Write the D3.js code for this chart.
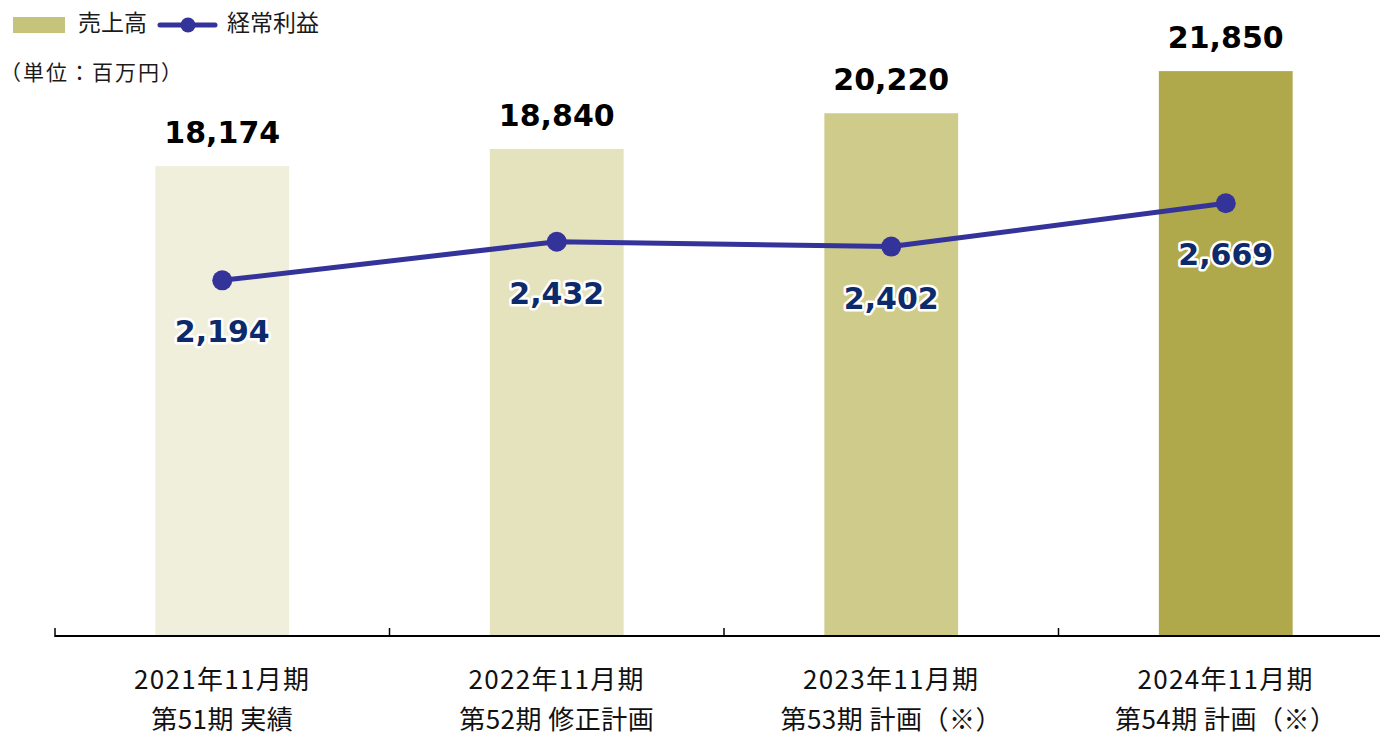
<!DOCTYPE html>
<html><head><meta charset="utf-8">
<script src="https://cdn.jsdelivr.net/npm/d3@7"></script>
<style>html,body{margin:0;padding:0;background:#fff;} svg{display:block;}</style>
</head><body>
<svg id="chart" width="1380" height="735"></svg>
<script>
const categories = ["2021年11月期", "2022年11月期", "2023年11月期", "2024年11月期"];
const subLabels = ["第51期 実績", "第52期 修正計画", "第53期 計画（※）", "第54期 計画（※）"];
const sales = [18174, 18840, 20220, 21850];
const ordinaryProfit = [2194, 2432, 2402, 2669];
const barColors = ["#F0EFDC", "#E5E2BE", "#CFCC8B", "#B0A94B"];
const legendLabels = ["売上高", "経常利益"];
const unitLabel = "（単位：百万円）";

const svg = d3.select("#chart");
const baseY = 636, left = 55, right = 1393;
const cjk = "'Noto Sans CJK JP', 'Noto Sans', sans-serif";
const numFont = "'DejaVu Sans', Verdana, sans-serif";

const xCell = d3.scaleBand().domain(categories).range([left, right]).padding(0);
const xBar = d3.scaleBand().domain(categories).range([left, right]).paddingInner(0.6).paddingOuter(0.3);
const ySales = d3.scaleLinear().domain([0, 24600]).range([baseY, 0]);
const yProfit = d3.scaleLinear().domain([0, 3923]).range([baseY, 0]);

// bars
svg.append("g").selectAll("rect").data(categories).join("rect")
  .attr("x", d => xBar(d))
  .attr("width", xBar.bandwidth())
  .attr("y", (d, i) => ySales(sales[i]))
  .attr("height", (d, i) => baseY - ySales(sales[i]))
  .attr("fill", (d, i) => barColors[i]);

// bar labels
svg.append("g").selectAll("text").data(categories).join("text")
  .attr("x", d => xBar(d) + xBar.bandwidth() / 2)
  .attr("y", (d, i) => ySales(sales[i]) - 23)
  .attr("text-anchor", "middle")
  .attr("font-family", numFont).attr("font-weight", "bold").attr("font-size", 30)
  .attr("fill", "#000")
  .text((d, i) => d3.format(",")(sales[i]));

// axis
const axisG = svg.append("g");
axisG.append("line").attr("x1", left).attr("x2", right).attr("y1", baseY).attr("y2", baseY)
  .attr("stroke", "#000").attr("stroke-width", 2);
const tickXs = categories.map(c => xCell(c)).concat([xCell(categories[categories.length-1]) + xCell.bandwidth()]);
axisG.selectAll("line.tick").data(tickXs).join("line").attr("class", "tick")
  .attr("x1", d => d).attr("x2", d => d).attr("y1", baseY - 8).attr("y2", baseY + 1)
  .attr("stroke", "#000").attr("stroke-width", 1.5);

const lab = axisG.selectAll("g.lab").data(categories).join("g").attr("class", "lab");
lab.append("text")
  .attr("x", d => xCell(d) + xCell.bandwidth() / 2).attr("y", 689)
  .attr("text-anchor", "middle").attr("font-family", cjk).attr("font-size", 26)
  .attr("letter-spacing", 1.3).attr("fill", "#111")
  .text(d => d);
lab.append("text")
  .attr("x", d => xCell(d) + xCell.bandwidth() / 2).attr("y", 729)
  .attr("text-anchor", "middle").attr("font-family", cjk).attr("font-size", 26)
  .attr("letter-spacing", 0.5).attr("fill", "#111")
  .text((d, i) => subLabels[i]);

// line
const cx = d => xBar(d) + xBar.bandwidth() / 2;
const line = d3.line().x(d => cx(d)).y((d, i) => yProfit(ordinaryProfit[i]));
svg.append("path").datum(categories).attr("d", line)
  .attr("fill", "none").attr("stroke", "#33339A").attr("stroke-width", 5).attr("stroke-linejoin", "round");
svg.append("g").selectAll("circle").data(categories).join("circle")
  .attr("cx", cx).attr("cy", (d, i) => yProfit(ordinaryProfit[i])).attr("r", 10)
  .attr("fill", "#33339A");
svg.append("g").selectAll("text").data(categories).join("text")
  .attr("x", cx).attr("y", (d, i) => yProfit(ordinaryProfit[i]) + 62)
  .attr("text-anchor", "middle")
  .attr("font-family", numFont).attr("font-weight", "bold").attr("font-size", 30)
  .attr("fill", "#0D2A6A")
  .attr("stroke", "#fff").attr("stroke-width", 5).attr("stroke-linejoin", "round")
  .attr("paint-order", "stroke")
  .text((d, i) => d3.format(",")(ordinaryProfit[i]));

// legend
const lg = svg.append("g");
lg.append("rect").attr("x", 13).attr("y", 17).attr("width", 52).attr("height", 16).attr("fill", "#C6C37A");
lg.append("text").attr("x", 78).attr("y", 31).attr("font-family", cjk).attr("font-size", 23).attr("fill", "#1a1a1a").text(legendLabels[0]);
lg.append("line").attr("x1", 160).attr("x2", 215).attr("y1", 25).attr("y2", 25)
  .attr("stroke", "#33339A").attr("stroke-width", 5).attr("stroke-linecap", "round");
lg.append("circle").attr("cx", 188).attr("cy", 25).attr("r", 7.5).attr("fill", "#33339A");
lg.append("text").attr("x", 227).attr("y", 31).attr("font-family", cjk).attr("font-size", 23).attr("fill", "#1a1a1a").text(legendLabels[1]);

svg.append("text").attr("x", 0).attr("y", 80).attr("font-family", cjk).attr("font-size", 21)
  .attr("letter-spacing", 2).attr("fill", "#1a1a1a").text(unitLabel);
</script>
</body></html>
